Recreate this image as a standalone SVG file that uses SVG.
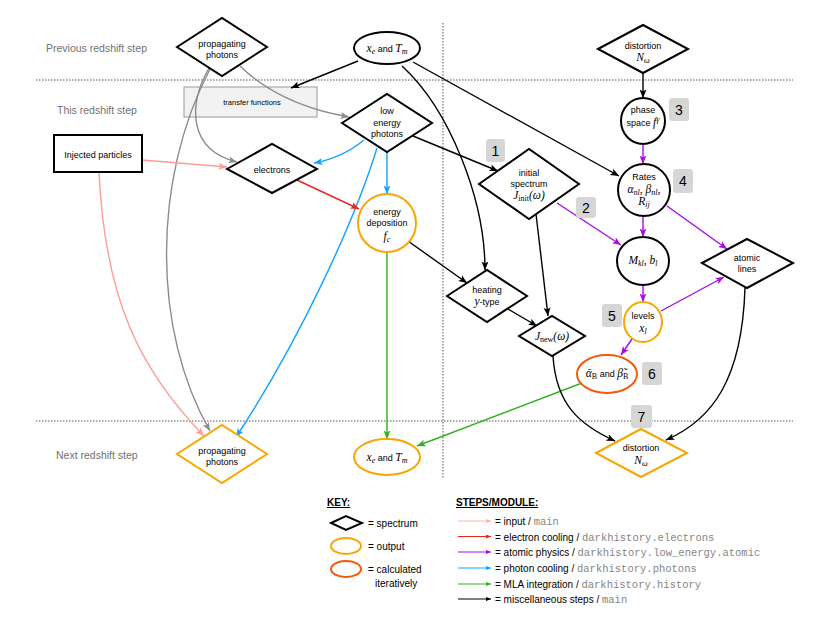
<svg xmlns="http://www.w3.org/2000/svg" width="830" height="635" viewBox="0 0 830 635">
<defs>
<style>
text{font-family:"Liberation Sans",Arial,sans-serif;font-size:9px;fill:#000}
.row{font-size:10.5px;fill:#707070}
.m{font-family:"Liberation Serif","Times New Roman",serif;font-style:italic;font-size:11.5px}
.mu{font-family:"Liberation Serif","Times New Roman",serif;font-size:8px}
.ms{font-family:"Liberation Serif","Times New Roman",serif;font-style:italic;font-size:8px}
.nd{fill:#fff;stroke:#000;stroke-width:2}
.out{fill:#fff;stroke:#f9a602;stroke-width:2}
.it{fill:#fff;stroke:#f05a0a;stroke-width:2}
.badge{fill:#d6d6d6}
.bn{font-size:14px;text-anchor:middle}
.dot{stroke:#555;stroke-width:1;stroke-dasharray:1.5,1.5;fill:none}
.e{fill:none;stroke-width:1.4}
.k{stroke:#000}.g{stroke:#8c8c8c}.p{stroke:#ff9c96}.r{stroke:#e8261c}.v{stroke:#a80ce0}.b{stroke:#12a2ff}.gr{stroke:#2bb31a}
.lg{fill:none;stroke-width:1}
.lt{font-size:10px}
.mono{font-family:"Liberation Mono","Courier New",monospace;font-size:10.5px;fill:#858585}
.hd{font-size:10px;font-weight:bold;text-decoration:underline}
</style>
<marker id="ak" markerUnits="userSpaceOnUse" markerWidth="9" markerHeight="8" refX="8.5" refY="4" orient="auto"><path d="M0,0.5 L8.5,4 L0,7.5 L2,4 z" fill="#000"/></marker>
<marker id="ag" markerUnits="userSpaceOnUse" markerWidth="9" markerHeight="8" refX="8.5" refY="4" orient="auto"><path d="M0,0.5 L8.5,4 L0,7.5 L2,4 z" fill="#8c8c8c"/></marker>
<marker id="ap" markerUnits="userSpaceOnUse" markerWidth="9" markerHeight="8" refX="8.5" refY="4" orient="auto"><path d="M0,0.5 L8.5,4 L0,7.5 L2,4 z" fill="#ff9c96"/></marker>
<marker id="ar" markerUnits="userSpaceOnUse" markerWidth="9" markerHeight="8" refX="8.5" refY="4" orient="auto"><path d="M0,0.5 L8.5,4 L0,7.5 L2,4 z" fill="#e8261c"/></marker>
<marker id="av" markerUnits="userSpaceOnUse" markerWidth="9" markerHeight="8" refX="8.5" refY="4" orient="auto"><path d="M0,0.5 L8.5,4 L0,7.5 L2,4 z" fill="#a80ce0"/></marker>
<marker id="ab" markerUnits="userSpaceOnUse" markerWidth="9" markerHeight="8" refX="8.5" refY="4" orient="auto"><path d="M0,0.5 L8.5,4 L0,7.5 L2,4 z" fill="#12a2ff"/></marker>
<marker id="agr" markerUnits="userSpaceOnUse" markerWidth="9" markerHeight="8" refX="8.5" refY="4" orient="auto"><path d="M0,0.5 L8.5,4 L0,7.5 L2,4 z" fill="#2bb31a"/></marker>
<marker id="lp" markerUnits="userSpaceOnUse" markerWidth="5" markerHeight="4" refX="5" refY="2" orient="auto"><path d="M0,0 L5,2 L0,4 z" fill="#ffb0b0"/></marker>
<marker id="lr" markerUnits="userSpaceOnUse" markerWidth="5" markerHeight="4" refX="5" refY="2" orient="auto"><path d="M0,0 L5,2 L0,4 z" fill="#e8261c"/></marker>
<marker id="lv" markerUnits="userSpaceOnUse" markerWidth="5" markerHeight="4" refX="5" refY="2" orient="auto"><path d="M0,0 L5,2 L0,4 z" fill="#a80ce0"/></marker>
<marker id="lb" markerUnits="userSpaceOnUse" markerWidth="5" markerHeight="4" refX="5" refY="2" orient="auto"><path d="M0,0 L5,2 L0,4 z" fill="#12a2ff"/></marker>
<marker id="lgr" markerUnits="userSpaceOnUse" markerWidth="5" markerHeight="4" refX="5" refY="2" orient="auto"><path d="M0,0 L5,2 L0,4 z" fill="#2bb31a"/></marker>
<marker id="lk" markerUnits="userSpaceOnUse" markerWidth="5" markerHeight="4" refX="5" refY="2" orient="auto"><path d="M0,0 L5,2 L0,4 z" fill="#000"/></marker>
</defs>
<rect width="830" height="635" fill="#fff"/>

<g id="separators">
<line class="dot" x1="36" y1="80" x2="793" y2="80"/>
<line class="dot" x1="36" y1="421" x2="793" y2="421"/>
<line class="dot" x1="443" y1="23" x2="443" y2="478"/>
<text class="row" x="46" y="52">Previous redshift step</text>
<text class="row" x="57" y="114">This redshift step</text>
<text class="row" x="56" y="459">Next redshift step</text>
</g>

<g id="transfer">
<rect x="184" y="87" width="133" height="30" fill="#f2f2f2" stroke="#999" stroke-width="1"/>
<text x="252" y="105" text-anchor="middle" style="font-size:7.5px">transfer functions</text>
</g>

<g id="connectors">
<path class="e g" d="M240,66 Q280,105 349,117" marker-end="url(#ag)"/>
<path class="e g" d="M209,68 C188,105 188,150 237,162" marker-end="url(#ag)"/>
<path class="e g" d="M210,69 C152,180 152,330 210,431" marker-end="url(#ag)"/>
<path class="e p" d="M142,160 L227,167" marker-end="url(#ap)"/>
<path class="e p" d="M99,172 C105,300 140,370 204,436" marker-end="url(#ap)"/>
<path class="e b" d="M364,140 Q342,158 314,163" marker-end="url(#ab)"/>
<path class="e b" d="M387,152 L387,194" marker-end="url(#ab)"/>
<path class="e b" d="M377,148 C355,220 300,340 236,437" marker-end="url(#ab)"/>
<path class="e r" d="M297,180 L359,209" marker-end="url(#ar)"/>
<path class="e gr" d="M387,252 L387,439" marker-end="url(#agr)"/>
<path class="e gr" d="M582,383 L417,446" marker-end="url(#agr)"/>
<path class="e k" d="M358,61 L291,88" marker-end="url(#ak)"/>
<path class="e k" d="M402,66 C450,110 485,200 485,270" marker-end="url(#ak)"/>
<path class="e k" d="M413,62 L619,176" marker-end="url(#ak)"/>
<path class="e k" d="M413,136 L498,171" marker-end="url(#ak)"/>
<path class="e k" d="M643,73 L643,98" marker-end="url(#ak)"/>
<path class="e k" d="M408,241 L467,283" marker-end="url(#ak)"/>
<path class="e k" d="M508,309 L537,326" marker-end="url(#ak)"/>
<path class="e k" d="M536,214 L548,316" marker-end="url(#ak)"/>
<path class="e k" d="M553,356 C556,405 580,425 615,441" marker-end="url(#ak)"/>
<path class="e k" d="M745,288 C742,380 712,420 666,440" marker-end="url(#ak)"/>
<path class="e v" d="M643,144 L643,164" marker-end="url(#av)"/>
<path class="e v" d="M643,216 L643,237" marker-end="url(#av)"/>
<path class="e v" d="M643,285 L643,302" marker-end="url(#av)"/>
<path class="e v" d="M632,339 L621,355" marker-end="url(#av)"/>
<path class="e v" d="M661,311 L724,277" marker-end="url(#av)"/>
<path class="e v" d="M667,206 L727,249" marker-end="url(#av)"/>
<path class="e v" d="M557,203 L621,245" marker-end="url(#av)"/>
</g>

<g id="prop-top">
<polygon class="nd" points="177,47 222,18 267,47 222,76"/>
<text x="222" y="47" text-anchor="middle">propagating</text>
<text x="222" y="58" text-anchor="middle">photons</text>
</g>
<g id="xe-top">
<ellipse class="nd" cx="387" cy="48" rx="33" ry="16"/>
<text x="387" y="52" text-anchor="middle"><tspan class="m">x</tspan><tspan class="ms" dy="2">e</tspan><tspan dy="-2"> and </tspan><tspan class="m">T</tspan><tspan class="ms" dy="2">m</tspan></text>
</g>
<g id="dist-top">
<polygon class="nd" points="598,49 643,25 688,49 643,73"/>
<text x="643" y="49" text-anchor="middle">distortion</text>
<text x="643" y="61" text-anchor="middle"><tspan class="m">N</tspan><tspan class="ms" dy="2">ω</tspan></text>
</g>
<g id="injected">
<rect x="54" y="135" width="88" height="37" fill="#fff" stroke="#000" stroke-width="2"/>
<text x="98" y="158" text-anchor="middle">Injected particles</text>
</g>
<g id="lowE">
<polygon class="nd" points="342,123 387,94 432,123 387,152"/>
<text x="387" y="114" text-anchor="middle">low</text>
<text x="387" y="126" text-anchor="middle">energy</text>
<text x="387" y="137" text-anchor="middle">photons</text>
</g>
<g id="electrons">
<polygon class="nd" points="227,169 272,144 317,169 272,193"/>
<text x="272" y="173" text-anchor="middle">electrons</text>
</g>
<g id="edep">
<circle class="out" cx="387" cy="223" r="29"/>
<text x="387" y="215" text-anchor="middle">energy</text>
<text x="387" y="226" text-anchor="middle">deposition</text>
<text x="387" y="240" text-anchor="middle"><tspan class="m">f</tspan><tspan class="ms" dy="2">c</tspan></text>
</g>
<g id="initspec">
<polygon class="nd" points="479,184 529,149 579,184 529,219"/>
<text x="529" y="176" text-anchor="middle">initial</text>
<text x="529" y="187" text-anchor="middle">spectrum</text>
<text x="529" y="199" text-anchor="middle"><tspan class="m">J</tspan><tspan class="mu" dy="2">init</tspan><tspan class="m" dy="-2">(ω)</tspan></text>
</g>
<g id="phase">
<ellipse class="nd" cx="643" cy="121" rx="22" ry="23"/>
<text x="643" y="113" text-anchor="middle">phase</text>
<text x="643" y="126" text-anchor="middle">space <tspan class="m">f</tspan><tspan class="ms" dy="-4">γ</tspan></text>
</g>
<g id="rates">
<circle class="nd" cx="644" cy="190" r="26"/>
<text x="644" y="180" text-anchor="middle">Rates</text>
<text x="644" y="193" text-anchor="middle"><tspan class="m">α</tspan><tspan class="ms" dy="2">nl</tspan><tspan class="m" dy="-2">, β</tspan><tspan class="ms" dy="2">nl</tspan><tspan class="m" dy="-2">,</tspan></text>
<text x="644" y="205" text-anchor="middle"><tspan class="m">R</tspan><tspan class="ms" dy="2">ij</tspan></text>
</g>
<g id="mkl">
<ellipse class="nd" cx="643" cy="261" rx="26" ry="24"/>
<text x="643" y="264" text-anchor="middle"><tspan class="m">M</tspan><tspan class="ms" dy="2">kl</tspan><tspan class="m" dy="-2">, b</tspan><tspan class="ms" dy="2">l</tspan></text>
</g>
<g id="atomic">
<polygon class="nd" points="702,263 747,239 793,263 747,288"/>
<text x="747" y="261" text-anchor="middle">atomic</text>
<text x="747" y="272" text-anchor="middle">lines</text>
</g>
<g id="heating">
<polygon class="nd" points="447,296 487,270 527,296 487,322"/>
<text x="487" y="293" text-anchor="middle">heating</text>
<text x="487" y="305" text-anchor="middle"><tspan class="m">y</tspan>-type</text>
</g>
<g id="jnew">
<polygon class="nd" points="519,336 552,316 585,336 552,356"/>
<text x="552" y="340" text-anchor="middle"><tspan class="m">J</tspan><tspan class="mu" dy="2">new</tspan><tspan class="m" dy="-2">(ω)</tspan></text>
</g>
<g id="levels">
<ellipse class="out" cx="643" cy="322" rx="19" ry="20"/>
<text x="643" y="319" text-anchor="middle">levels</text>
<text x="643" y="332" text-anchor="middle"><tspan class="m">x</tspan><tspan class="ms" dy="2">l</tspan></text>
</g>
<g id="alphaB">
<ellipse class="it" cx="607" cy="374" rx="30" ry="19"/>
<text x="607" y="377" text-anchor="middle"><tspan class="m">ᾱ</tspan><tspan class="mu" dy="2">B</tspan><tspan dy="-2"> and </tspan><tspan class="m">β̃</tspan><tspan class="mu" dy="2">B</tspan></text>
</g>
<g id="prop-bottom">
<polygon class="out" points="177,454 222,425 267,454 222,483"/>
<text x="222" y="454" text-anchor="middle">propagating</text>
<text x="222" y="465" text-anchor="middle">photons</text>
</g>
<g id="xe-bottom">
<ellipse class="out" cx="387" cy="457" rx="33" ry="18"/>
<text x="387" y="461" text-anchor="middle"><tspan class="m">x</tspan><tspan class="ms" dy="2">e</tspan><tspan dy="-2"> and </tspan><tspan class="m">T</tspan><tspan class="ms" dy="2">m</tspan></text>
</g>
<g id="dist-bottom">
<polygon class="out" points="596,453 641,429 687,453 641,477"/>
<text x="641" y="451" text-anchor="middle">distortion</text>
<text x="641" y="464" text-anchor="middle"><tspan class="m">N</tspan><tspan class="ms" dy="2">ω</tspan></text>
</g>

<g id="badges">
<rect class="badge" x="486" y="139" width="19" height="23" rx="3"/><text class="bn" x="495.5" y="156">1</text>
<rect class="badge" x="576" y="197" width="20" height="21" rx="3"/><text class="bn" x="586" y="213">2</text>
<rect class="badge" x="669" y="98" width="20" height="23" rx="3"/><text class="bn" x="679" y="115">3</text>
<rect class="badge" x="673" y="169" width="20" height="24" rx="3"/><text class="bn" x="683" y="186">4</text>
<rect class="badge" x="602" y="304" width="20" height="23" rx="3"/><text class="bn" x="612" y="321">5</text>
<rect class="badge" x="642" y="362" width="20" height="23" rx="3"/><text class="bn" x="652" y="379">6</text>
<rect class="badge" x="631" y="405" width="21" height="23" rx="3"/><text class="bn" x="641.5" y="422">7</text>
</g>

<g id="key">
<text class="hd" x="327" y="506">KEY:</text>
<polygon points="331,523 346,516 362,523 346,530" fill="#fff" stroke="#000" stroke-width="2"/>
<text class="lt" x="368" y="527">= spectrum</text>
<ellipse cx="346" cy="546" rx="15" ry="8" fill="#fff" stroke="#f9a602" stroke-width="2"/>
<text class="lt" x="368" y="550">= output</text>
<ellipse cx="346" cy="569" rx="15" ry="8" fill="#fff" stroke="#f05a0a" stroke-width="2"/>
<text class="lt" x="368" y="573">= calculated</text>
<text class="lt" x="375" y="587">iteratively</text>
</g>
<g id="steps">
<text class="hd" x="456" y="506">STEPS/MODULE:</text>
<line class="lg" x1="458" y1="521" x2="491" y2="521" stroke="#ffb0b0" marker-end="url(#lp)"/>
<text class="lt" x="495" y="525">= input / <tspan class="mono">main</tspan></text>
<line class="lg" x1="458" y1="536.5" x2="491" y2="536.5" stroke="#e8261c" marker-end="url(#lr)"/>
<text class="lt" x="495" y="540.5">= electron cooling / <tspan class="mono">darkhistory.electrons</tspan></text>
<line class="lg" x1="458" y1="552" x2="491" y2="552" stroke="#a80ce0" marker-end="url(#lv)"/>
<text class="lt" x="495" y="556">= atomic physics / <tspan class="mono">darkhistory.low_energy.atomic</tspan></text>
<line class="lg" x1="458" y1="568" x2="491" y2="568" stroke="#12a2ff" marker-end="url(#lb)"/>
<text class="lt" x="495" y="572">= photon cooling / <tspan class="mono">darkhistory.photons</tspan></text>
<line class="lg" x1="458" y1="584" x2="491" y2="584" stroke="#2bb31a" marker-end="url(#lgr)"/>
<text class="lt" x="495" y="588">= MLA integration / <tspan class="mono">darkhistory.history</tspan></text>
<line class="lg" x1="458" y1="599" x2="491" y2="599" stroke="#000" marker-end="url(#lk)"/>
<text class="lt" x="495" y="603">= miscellaneous steps / <tspan class="mono">main</tspan></text>
</g>
</svg>
